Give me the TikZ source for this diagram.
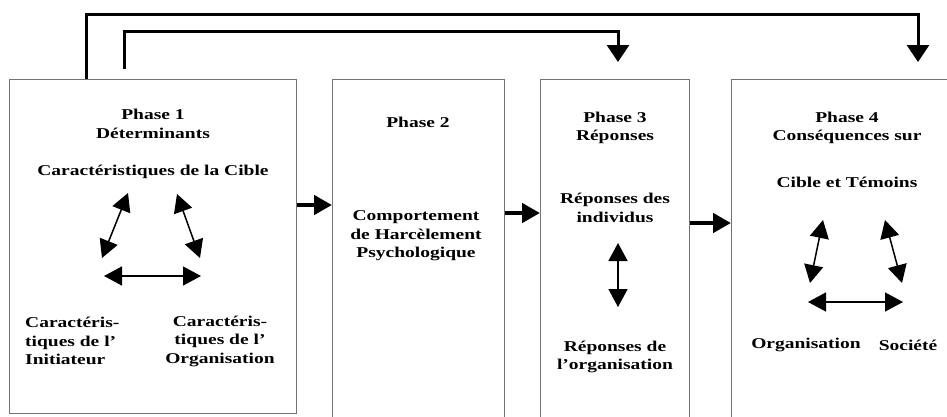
\documentclass[tikz,border=0pt]{standalone}
\usepackage{fontspec}
\setmainfont[FakeStretch=1.3]{Liberation Serif}
\usetikzlibrary{positioning,arrows.meta}

\begin{document}
\begin{tikzpicture}[
    x=1pt, y=-1pt,
    font=\bfseries\fontsize{15}{18.5}\selectfont,
    phasebox/.style={
        draw=black!55, line width=1.3pt,
        inner sep=0pt, anchor=north west
    },
    txt/.style={align=center, inner sep=0pt},
    link/.style={-{Triangle[length=17pt,width=22pt]}, line width=3pt},
    flow/.style={-{Triangle[length=18pt,width=19pt]}, line width=4.5pt},
    both/.style={{Triangle[length=18pt,width=19pt]}-{Triangle[length=18pt,width=19pt]}, line width=1.5pt},
]
\clip (0,0) rectangle (947,416);

% ===============================
%          phase boxes
% ===============================

\node[phasebox, minimum width=287pt, minimum height=334pt] (phase1) at (9,79) {};
\node[phasebox, minimum width=172pt, minimum height=360pt] (phase2) at (332,79) {};
\node[phasebox, minimum width=149pt, minimum height=360pt] (phase3) at (540,79) {};
\node[phasebox, minimum width=240pt, minimum height=360pt] (phase4) at (731,79) {};

% ===============================
%     Phase 1 : determinants
% ===============================

\node[txt] (title1) at (153,124) {Phase 1\\Déterminants};
\node[txt] (cible) at (153,172) {Caractéristiques de la Cible};
\node[txt, align=left, anchor=west] (initiateur) at (25,341)
    {Caractéris-\\tiques de l’\\Initiateur};
\node[txt] (organisation) at (220,341)
    {Caractéris-\\tiques de l’\\Organisation};

\coordinate (c1a) at (128,193);
\coordinate (c1b) at (102,258);
\coordinate (c2a) at (177,194);
\coordinate (c2b) at (200,258);
\coordinate (c3a) at (104,276);
\coordinate (c3b) at (201,276);

\draw[both] (c1a) -- (c1b);
\draw[both] (c2a) -- (c2b);
\draw[both] (c3a) -- (c3b);

% ===============================
%     Phase 2 : behaviour
% ===============================

\node[txt] (title2) at (418,122) {Phase 2};
\node[txt] (comportement) at (416,236)
    {Comportement\\de Harcèlement\\Psychologique};

% ===============================
%     Phase 3 : responses
% ===============================

\node[txt] (title3) at (615,128) {Phase 3\\Réponses};
\node[txt] (individus) at (615,208) {Réponses des\\individus};
\node[txt] (orgreponse) at (615,357) {Réponses de\\l’organisation};

\coordinate (r1) at (618,243);
\coordinate (r2) at (618,307);
\draw[both] (r1) -- (r2);

% ===============================
%     Phase 4 : consequences
% ===============================

\node[txt] (title4) at (847,128) {Phase 4\\Conséquences sur};
\node[txt] (temoins) at (847,182) {Cible et Témoins};
\node[txt] (organisation4) at (806,345) {Organisation};
\node[txt] (societe) at (908,345) {Société};

\coordinate (d1a) at (823,220);
\coordinate (d1b) at (810,283);
\coordinate (d2a) at (885,220);
\coordinate (d2b) at (902,283);
\coordinate (d3a) at (808,302);
\coordinate (d3b) at (903,302);

\draw[both] (d1a) -- (d1b);
\draw[both] (d2a) -- (d2b);
\draw[both] (d3a) -- (d3b);

% ===============================
%              arrows
% ===============================

\draw[flow] (phase1.east |- 0,205) -- (phase2.west |- 0,205);
\draw[flow] (phase2.east |- 0,213) -- (phase3.west |- 0,213);
\draw[flow] (phase3.east |- 0,223) -- (phase4.west |- 0,223);

\coordinate (out3) at (124,69);
\coordinate (in3) at (618,62);
\coordinate (in4) at (918,62);

\draw[link] ([xshift=77pt]phase1.north west) -- ++(0,-65) -| (in4);
\draw[link] (out3) -- ++(0,-38) -| (in3);

\end{tikzpicture}
\end{document}
